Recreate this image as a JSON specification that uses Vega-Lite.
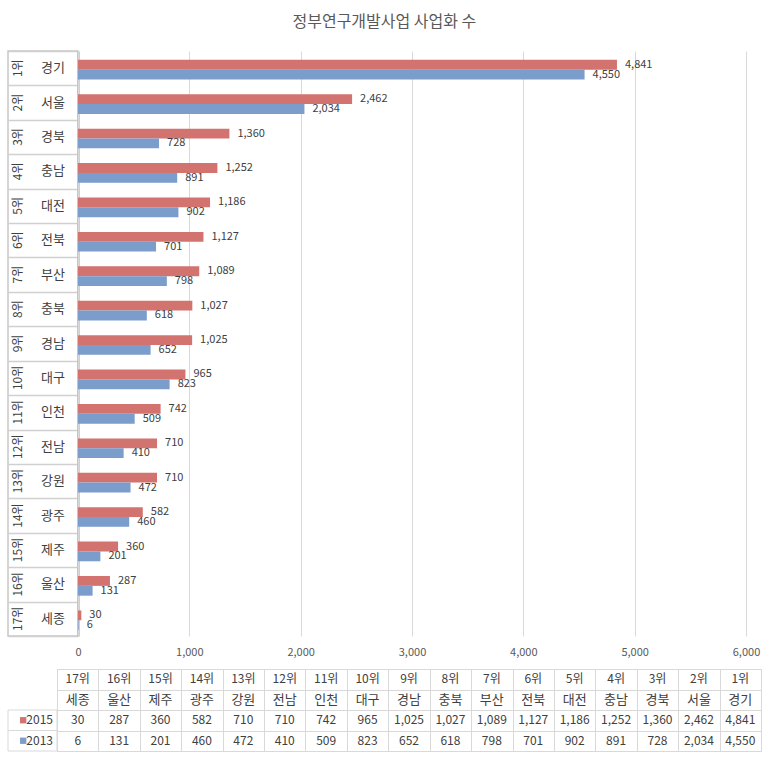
{
  "$schema": "https://vega.github.io/schema/vega-lite/v6.json",
  "padding": {"left": 7, "top": 14, "right": 0, "bottom": 0},
  "config": {"font": "Noto Sans CJK KR", "view": {"stroke": null}},
  "title": {"text": "정부연구개발사업 사업화 수", "fontSize": 16, "font": "Noto Sans CJK KR", "fontWeight": "normal", "color": "#595959", "anchor": "middle", "offset": 20},
  "datasets": {
    "regions": [
      {"rank": "1위", "name": "경기", "2015": 4841, "2013": 4550},
      {"rank": "2위", "name": "서울", "2015": 2462, "2013": 2034},
      {"rank": "3위", "name": "경북", "2015": 1360, "2013": 728},
      {"rank": "4위", "name": "충남", "2015": 1252, "2013": 891},
      {"rank": "5위", "name": "대전", "2015": 1186, "2013": 902},
      {"rank": "6위", "name": "전북", "2015": 1127, "2013": 701},
      {"rank": "7위", "name": "부산", "2015": 1089, "2013": 798},
      {"rank": "8위", "name": "충북", "2015": 1027, "2013": 618},
      {"rank": "9위", "name": "경남", "2015": 1025, "2013": 652},
      {"rank": "10위", "name": "대구", "2015": 965, "2013": 823},
      {"rank": "11위", "name": "인천", "2015": 742, "2013": 509},
      {"rank": "12위", "name": "전남", "2015": 710, "2013": 410},
      {"rank": "13위", "name": "강원", "2015": 710, "2013": 472},
      {"rank": "14위", "name": "광주", "2015": 582, "2013": 460},
      {"rank": "15위", "name": "제주", "2015": 360, "2013": 201},
      {"rank": "16위", "name": "울산", "2015": 287, "2013": 131},
      {"rank": "17위", "name": "세종", "2015": 30, "2013": 6}
    ]
  },
  "spacing": 11,
  "vconcat": [
    {
      "spacing": 0,
      "bounds": "flush",
      "hconcat": [
        {
          "width": 70,
          "height": 585,
          "data": {"name": "regions"},
          "view": {"stroke": "#c8c8c8", "strokeWidth": 1.5},
          "encoding": {
            "y": {
              "field": "name", "type": "nominal",
              "sort": ["경기","서울","경북","충남","대전","전북","부산","충북","경남","대구","인천","전남","강원","광주","제주","울산","세종"],
              "scale": {"type": "band", "paddingInner": 0, "paddingOuter": 0},
              "axis": {"orient": "right", "title": null, "labels": false, "ticks": false, "domain": true, "domainColor": "#bfbfbf", "domainWidth": 2.5, "grid": true, "tickBand": "extent", "gridColor": "#d0d0d0", "gridWidth": 1.5}
            }
          },
          "layer": [
            {
              "transform": [{"fold": ["rank"], "as": ["col", "label"]}],
              "mark": {"type": "text", "angle": 270, "fontSize": 12, "color": "#404040", "baseline": "middle", "align": "center"},
              "encoding": {
                "x": {"field": "col", "type": "nominal", "scale": {"type": "band", "domain": ["rank", "name"], "paddingInner": 0.4286, "paddingOuter": 0.2143, "align": 0}, "axis": null},
                "text": {"field": "label"}
              }
            },
            {
              "transform": [{"fold": ["name"], "as": ["col", "label"]}],
              "mark": {"type": "text", "fontSize": 13, "color": "#404040", "baseline": "middle", "align": "center"},
              "encoding": {
                "x": {"field": "col", "type": "nominal"},
                "text": {"field": "label"}
              }
            }
          ]
        },
        {
          "width": 668,
          "height": 585,
          "data": {"name": "regions"},
          "transform": [{"fold": ["2015", "2013"], "as": ["year", "value"]}],
          "encoding": {
            "y": {
              "field": "name", "type": "nominal",
              "sort": ["경기","서울","경북","충남","대전","전북","부산","충북","경남","대구","인천","전남","강원","광주","제주","울산","세종"],
              "scale": {"paddingInner": 0, "paddingOuter": 0},
              "axis": null
            },
            "yOffset": {"field": "year", "type": "nominal", "sort": ["2015", "2013"], "scale": {"paddingInner": 0, "paddingOuter": 0.75, "align": 0.6}},
            "x": {
              "field": "value", "type": "quantitative",
              "scale": {"domain": [0, 6000], "nice": false},
              "axis": {"title": null, "values": [0, 1000, 2000, 3000, 4000, 5000, 6000], "format": ",.0f", "grid": true, "gridColor": "#d9d9d9", "ticks": false, "domain": false, "labelPadding": 10, "labelFontSize": 11, "labelColor": "#595959", "labelFlush": false}
            }
          },
          "layer": [
            {
              "mark": {"type": "bar"},
              "encoding": {
                "color": {"field": "year", "type": "nominal", "scale": {"domain": ["2015", "2013"], "range": ["#d27370", "#7a9dcc"]}, "legend": null}
              }
            },
            {
              "mark": {"type": "text", "align": "left", "baseline": "middle", "dx": 8, "fontSize": 11, "color": "#404040"},
              "encoding": {
                "text": {"field": "value", "type": "quantitative", "format": ","}
              }
            }
          ]
        }
      ]
    },
    {
      "spacing": 0,
      "bounds": "flush",
      "hconcat": [
        {
          "width": 49,
          "height": 82,
          "data": {"values": [{"year": "2015"}, {"year": "2013"}]},
          "encoding": {
            "y": {"field": "year", "type": "nominal", "scale": {"domain": ["rank", "name", "2015", "2013"], "paddingInner": 0, "paddingOuter": 0}, "axis": null}
          },
          "layer": [
            {
              "mark": {"type": "rect", "fill": "white", "stroke": "#d9d9d9"},
              "encoding": {"x": {"datum": "k", "type": "nominal", "scale": {"paddingInner": 0, "paddingOuter": 0}, "axis": null}}
            },
            {
              "mark": {"type": "square", "size": 40, "opacity": 1},
              "encoding": {
                "x": {"datum": "k", "type": "nominal", "bandPosition": 0.31},
                "color": {"field": "year", "type": "nominal", "scale": {"domain": ["2015", "2013"], "range": ["#d27370", "#7a9dcc"]}, "legend": null}
              }
            },
            {
              "mark": {"type": "text", "align": "right", "baseline": "middle", "dx": -4, "fontSize": 12, "color": "#404040"},
              "encoding": {
                "x": {"datum": "k", "type": "nominal", "bandPosition": 1},
                "text": {"field": "year"}
              }
            }
          ]
        },
        {
          "width": 704,
          "height": 82,
          "data": {"name": "regions"},
          "view": {"stroke": "#d9d9d9"},
          "encoding": {
            "x": {
              "field": "name", "type": "nominal",
              "sort": ["세종","울산","제주","광주","강원","전남","인천","대구","경남","충북","부산","전북","대전","충남","경북","서울","경기"],
              "scale": {"paddingInner": 0, "paddingOuter": 0},
              "axis": {"orient": "top", "title": null, "labels": false, "ticks": false, "domain": false, "grid": true, "tickBand": "extent", "gridColor": "#d9d9d9"}
            }
          },
          "layer": [
            {
              "mark": {"type": "text", "baseline": "middle", "fontSize": 12, "color": "#404040"},
              "encoding": {
                "y": {"datum": "rank", "type": "nominal", "scale": {"domain": ["rank", "name", "2015", "2013"], "paddingInner": 0, "paddingOuter": 0}, "axis": {"title": null, "labels": false, "ticks": false, "domain": false, "grid": true, "tickBand": "extent", "gridColor": "#d9d9d9"}},
                "text": {"field": "rank"}
              }
            },
            {
              "mark": {"type": "text", "baseline": "middle", "fontSize": 13, "color": "#404040"},
              "encoding": {
                "y": {"datum": "name", "type": "nominal"},
                "text": {"field": "name"}
              }
            },
            {
              "mark": {"type": "text", "baseline": "middle", "fontSize": 12, "color": "#404040"},
              "encoding": {
                "y": {"datum": "2015", "type": "nominal"},
                "text": {"field": "2015", "type": "quantitative", "format": ","}
              }
            },
            {
              "mark": {"type": "text", "baseline": "middle", "fontSize": 12, "color": "#404040"},
              "encoding": {
                "y": {"datum": "2013", "type": "nominal"},
                "text": {"field": "2013", "type": "quantitative", "format": ","}
              }
            }
          ]
        }
      ]
    }
  ]
}
